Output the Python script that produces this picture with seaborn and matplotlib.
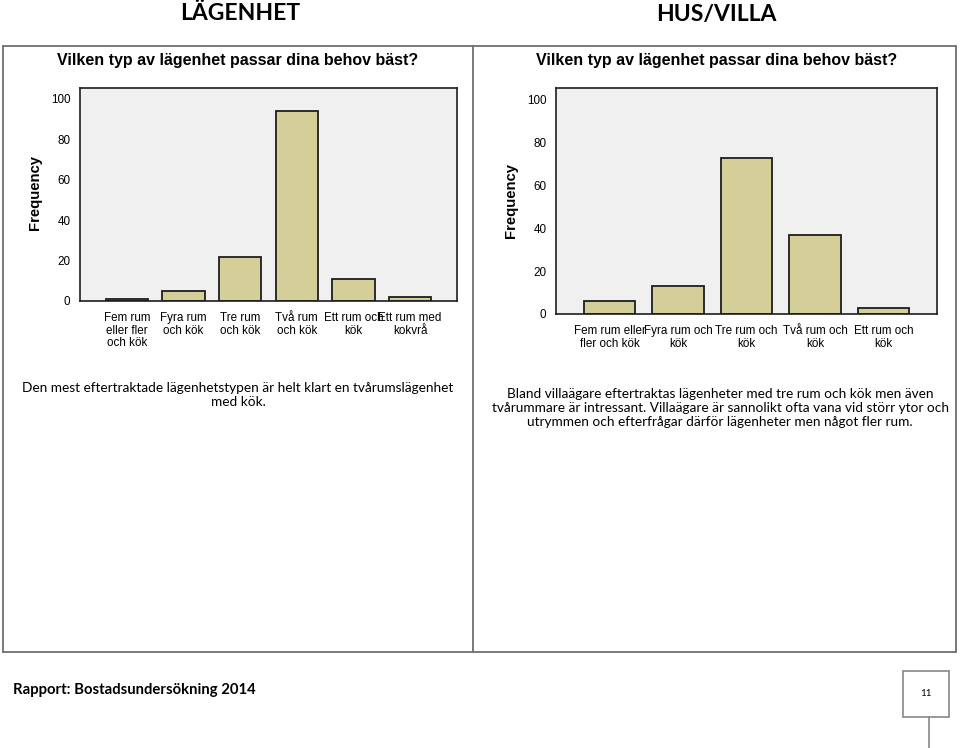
import matplotlib
matplotlib.use("Agg")
import matplotlib.pyplot as plt
from matplotlib.lines import Line2D
from matplotlib.patches import Rectangle
import seaborn as sns

W, H = 960, 748

# LÄGENHET - answers from people living in apartments
apt_types = ["Fem rum\neller fler\noch kök", "Fyra rum\noch kök", "Tre rum\noch kök",
             "Två rum\noch kök", "Ett rum och\nkök", "Ett rum med\nkokvrå"]
apt_counts = [1, 5, 22, 94, 11, 2]

# HUS/VILLA - answers from people living in houses
villa_types = ["Fem rum eller\nfler och kök", "Fyra rum och\nkök", "Tre rum och\nkök",
               "Två rum och\nkök", "Ett rum och\nkök"]
villa_counts = [6, 13, 73, 37, 3]

y_ticks = [0, 20, 40, 60, 80, 100]

title = "Vilken typ av lägenhet passar dina behov bäst?"
apt_text = "Den mest eftertraktade lägenhetstypen är helt klart en tvårumslägenhet\nmed kök."
villa_text = ("Bland villaägare eftertraktas lägenheter med tre rum och kök men även\n"
              "tvårummare är intressant. Villaägare är sannolikt ofta vana vid störr ytor och\n"
              "utrymmen och efterfrågar därför lägenheter men något fler rum.")

sns.set_style("white")
plt.rcParams["font.family"] = ["Liberation Sans", "DejaVu Sans"]
plt.rcParams["text.color"] = "black"
plt.rcParams["axes.labelcolor"] = "black"
plt.rcParams["xtick.color"] = "black"
plt.rcParams["ytick.color"] = "black"

BAR = "#d4cf98"
BG = "#f0f0f0"
EDGE = "#1e1e1e"
BODY_FONT = ["Lato", "DejaVu Sans"]


def fx(x):
    return x / W


def fy(y):
    return 1 - y / H


def draw_chart(fig, box, cats, vals, ymax, label_y):
    # box is (left, top, right, bottom) in pixels
    l, t, r, b = box
    ax = fig.add_axes([fx(l), fy(b), (r - l) / W, (b - t) / H])
    sns.barplot(x=cats, y=vals, ax=ax, color=BAR, saturation=1, width=0.75,
                edgecolor=EDGE, linewidth=1.3)
    ax.set_facecolor(BG)
    n = len(cats)
    pad = 0.83 if n == 6 else 0.78
    ax.set_xlim(-pad, n - 1 + pad)
    ax.set_ylim(0, ymax)
    ax.set_yticks(y_ticks)
    ax.tick_params(axis="both", direction="out", length=6, width=1.2, color=EDGE,
                   labelsize=8.4, pad=1)
    ax.tick_params(axis="x", pad=2)
    for lab in ax.get_xticklabels():
        lab.set_linespacing(1.05)
        lab.set_verticalalignment("top")
    for s in ax.spines.values():
        s.set_visible(True)
        s.set_color(EDGE)
        s.set_linewidth(1.2)
    ax.set_xlabel("")
    ax.set_ylabel("Frequency", fontsize=10.7, fontweight="bold")
    ax.yaxis.set_label_coords(-0.10, label_y)
    return ax


fig = plt.figure(figsize=(W / 100, H / 100), dpi=100)

# headers
fig.text(fx(240), fy(14), "LÄGENHET", family=BODY_FONT, fontsize=16.5, fontweight="bold",
         ha="center", va="center")
fig.text(fx(716), fy(14), "HUS/VILLA", family=BODY_FONT, fontsize=16.5, fontweight="bold",
         ha="center", va="center")

# table frame
grid = "#6e6e6e"
for x0, y0, x1, y1 in [(3, 46, 956, 46), (3, 652, 956, 652), (3, 46, 3, 652),
                       (956, 46, 956, 652), (473, 46, 473, 652)]:
    fig.add_artist(Line2D([fx(x0), fx(x1)], [fy(y0), fy(y1)], color=grid, lw=1.3))

# charts
draw_chart(fig, (80, 88, 457, 301), apt_types, apt_counts, 105.4, 0.51)
draw_chart(fig, (556, 88, 937, 314), villa_types, villa_counts, 105.6, 0.5)

fig.text(fx(238), fy(61), title, fontsize=11.5, fontweight="bold", ha="center", va="center")
fig.text(fx(717), fy(61), title, fontsize=11.5, fontweight="bold", ha="center", va="center")

# comments
fig.text(fx(238), fy(395), apt_text, family=BODY_FONT, fontsize=9.85, ha="center",
         va="center", linespacing=1.2, multialignment="center")
fig.text(fx(720), fy(408), villa_text, family=BODY_FONT, fontsize=9.85, ha="center",
         va="center", linespacing=1.2, multialignment="center")

# footer
fig.text(fx(13), fy(690), "Rapport: Bostadsundersökning 2014", family=BODY_FONT,
         fontsize=10.7, fontweight="bold", ha="left", va="center")
fig.add_artist(Rectangle((fx(903), fy(717)), 46 / W, 46 / H, transform=fig.transFigure,
                         facecolor="white", edgecolor="#888888", lw=1.2))
fig.add_artist(Line2D([fx(929), fx(929)], [fy(717), fy(748)], color="#888888", lw=1.2))
fig.text(fx(926), fy(694), "11", family=BODY_FONT, fontsize=7, ha="center", va="center")

fig.savefig("out.png", dpi=100)
